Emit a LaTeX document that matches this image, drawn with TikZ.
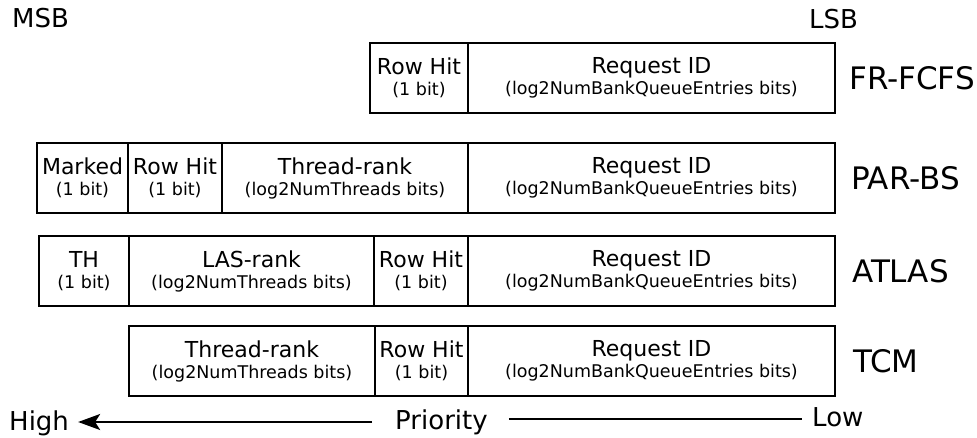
\documentclass[tikz,border=0pt]{standalone}
\usepackage{fontspec}
\setmainfont{DejaVu Sans}
\usetikzlibrary{arrows.meta}

% one field of a scheduling priority word: title over its width in bits
\newcommand{\fieldtext}[2]{{\fontsize{22}{21}\selectfont #1}\\#2}

\tikzset{
  field/.style={draw, line width=1.8pt, inner sep=0pt, outer sep=0pt,
    minimum height=70pt, anchor=north west, align=center,
    font=\fontsize{17.5}{21}\selectfont},
  scheme/.style={anchor=west, inner sep=0pt, font=\fontsize{31}{36}\selectfont},
  endlabel/.style={inner sep=0pt, font=\fontsize{26}{30}\selectfont},
  priorityline/.style={line width=1.8pt},
}

\begin{document}
\begin{tikzpicture}[x=1pt,y=-1pt]
\useasboundingbox (0,0) rectangle (977,438);

% bit order
\node[endlabel, anchor=west] (msb) at (12,18) {MSB};
\node[endlabel, anchor=west] (lsb) at (809,19) {LSB};

% FR-FCFS
\node[field, minimum width=98pt] (fr1) at (370,43) {\fieldtext{Row Hit}{(1 bit)}};
\node[field, minimum width=367pt] (fr2) at (fr1.north east) {\fieldtext{Request ID}{(log2NumBankQueueEntries bits)}};
\node[scheme] (frlab) at ([xshift=14pt]fr2.east) {FR-FCFS};

% PAR-BS
\node[field, minimum width=91pt] (pb1) at (37,143) {\fieldtext{Marked}{(1 bit)}};
\node[field, minimum width=94pt] (pb2) at (pb1.north east) {\fieldtext{Row Hit}{(1 bit)}};
\node[field, minimum width=246pt] (pb3) at (pb2.north east) {\fieldtext{Thread-rank}{(log2NumThreads bits)}};
\node[field, minimum width=367pt] (pb4) at (pb3.north east) {\fieldtext{Request ID}{(log2NumBankQueueEntries bits)}};
\node[scheme] (pblab) at ([xshift=16pt]pb4.east) {PAR-BS};

% ATLAS
\node[field, minimum width=90pt] (at1) at (39,236) {\fieldtext{TH}{(1 bit)}};
\node[field, minimum width=245pt] (at2) at (at1.north east) {\fieldtext{LAS-rank}{(log2NumThreads bits)}};
\node[field, minimum width=94pt] (at3) at (at2.north east) {\fieldtext{Row Hit}{(1 bit)}};
\node[field, minimum width=367pt] (at4) at (at3.north east) {\fieldtext{Request ID}{(log2NumBankQueueEntries bits)}};
\node[scheme] (atlab) at ([xshift=17pt]at4.east) {ATLAS};

% TCM
\node[field, minimum width=246pt] (tc1) at (129,326) {\fieldtext{Thread-rank}{(log2NumThreads bits)}};
\node[field, minimum width=93pt] (tc2) at (tc1.north east) {\fieldtext{Row Hit}{(1 bit)}};
\node[field, minimum width=367pt] (tc3) at (tc2.north east) {\fieldtext{Request ID}{(log2NumBankQueueEntries bits)}};
\node[scheme] (tclab) at ([xshift=18pt]tc3.east) {TCM};

% priority axis
\node[endlabel, anchor=base west] (high) at (9,430) {High};
\node[endlabel, anchor=base west] (prio) at (395,429.3) {Priority};
\node[endlabel, anchor=base west] (low) at (812,426.5) {Low};

\draw[priorityline, -{Stealth[length=22pt, width=16pt, inset=5pt]},
      shorten <=23pt, shorten >=9pt]
  (prio.west |- 0,422) -- (high.east |- 0,422);
\draw[priorityline, shorten <=21pt, shorten >=10pt]
  (prio.east |- 0,419) -- (low.west |- 0,419);
\end{tikzpicture}
\end{document}
